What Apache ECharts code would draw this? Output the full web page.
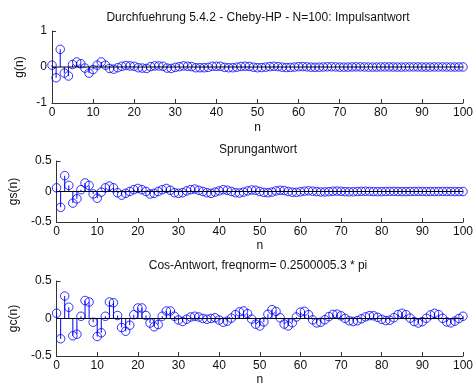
<!DOCTYPE html>
<html>
<head>
<meta charset="utf-8">
<script src="https://cdn.jsdelivr.net/npm/echarts@6/dist/echarts.min.js"></script>
<style>html,body{margin:0;padding:0;background:#fff}#c{width:476px;height:387px}</style>
</head>
<body>
<div id="c"></div>
<script>
// Titles and axis names
const titles = ["Durchfuehrung 5.4.2 - Cheby-HP - N=100: Impulsantwort", "Sprungantwort", "Cos-Antwort, freqnorm= 0.2500005.3 * pi"];
const yNames = ["g(n)", "gs(n)", "gc(n)"];
const xName = "n";
const xTicks = [0, 10, 20, 30, 40, 50, 60, 70, 80, 90, 100];
const yTicks1 = [-1, 0, 1];
const yTicks2 = [-0.5, 0, 0.5];
const yTicks3 = [-0.5, 0, 0.5];

// sample index n = 0..100
const nIdx = [0,1,2,3,4,5,6,7,8,9,10,11,12,13,14,15,16,17,18,19,20,21,22,23,24,25,26,27,28,29,30,31,32,33,34,35,36,37,38,39,40,41,42,43,44,45,46,47,48,49,50,51,52,53,54,55,56,57,58,59,60,61,62,63,64,65,66,67,68,69,70,71,72,73,74,75,76,77,78,79,80,81,82,83,84,85,86,87,88,89,90,91,92,93,94,95,96,97,98,99,100];

// impulse response g(n)
const gImpulse = [0.05,-0.30,0.49,-0.17,-0.25,0.07,0.14,0.09,-0.03,-0.17,-0.07,0.05,0.14,0.05,-0.04,-0.06,-0.02,0.02,0.04,
0.03,0.02,-0.02,-0.03,-0.04,0.01,0.03,0.03,0.02,-0.03,-0.04,-0.01,0.01,0.03,0.02,0.01,-0.02,-0.02,-0.02,-0.01,0.02,0.02,
0.02,-0.01,-0.02,-0.02,-0.005,0.015,0.02,0.015,-0.005,-0.02,-0.015,-0.005,0.01,0.02,0.01,-0.005,-0.015,-0.012,-0.002,0.009,
0.011,0.004,-0.004,-0.008,-0.005,0.0,0.005,0.006,0.002,-0.003,-0.005,-0.003,0.001,0.004,0.003,0.001,-0.002,-0.003,-0.002,0.001,
0.002,0.002,0.0,-0.002,-0.002,0.0,0.001,0.002,0.001,-0.001,-0.002,-0.001,0.001,0.001,0.001,0.0,-0.001,-0.001,0.0,0.001];

// step response gs(n)
const gStep = [0.06,-0.26,0.26,0.10,-0.19,-0.12,0.03,0.14,0.10,-0.04,-0.11,-0.01,0.06,0.09,0.06,-0.02,-0.06,-0.03,0.0,0.03,0.05,
0.03,0.0,-0.04,-0.03,0.0,0.03,0.05,0.02,-0.02,-0.03,-0.02,0.01,0.03,0.04,0.02,0.0,-0.02,-0.03,-0.01,0.01,
0.03,0.02,0.0,-0.02,-0.025,-0.01,0.01,0.025,0.02,0.0,-0.015,-0.02,-0.01,0.01,0.02,0.015,0.0,-0.012,-0.014,-0.005,
0.006,0.01,0.006,-0.002,-0.007,-0.007,-0.002,0.004,0.006,0.003,-0.002,-0.005,-0.004,0.0,0.003,0.004,0.002,-0.001,-0.003,-0.002,
0.0,0.002,0.002,0.0,-0.002,-0.002,0.0,0.001,0.002,0.001,-0.001,-0.001,-0.001,0.0,0.001,0.001,0.0,-0.001,-0.001,0.0];

// cosine response gc(n)
const gCos = [0.07,-0.27,0.30,0.15,-0.23,-0.21,0.03,0.24,0.22,-0.05,-0.24,-0.19,0.03,0.22,0.21,0.04,-0.12,-0.17,-0.09,0.05,0.14,
0.14,0.04,-0.06,-0.11,-0.08,0.03,0.10,0.10,0.03,-0.02,-0.04,-0.01,0.02,0.03,0.02,0.0,-0.01,0.0,0.01,-0.02,
-0.05,-0.035,0.004,0.051,0.088,0.10,0.065,-0.008,-0.076,-0.10,-0.045,0.056,0.118,0.094,0.01,-0.074,-0.099,-0.057,0.02,0.085,
0.097,0.051,-0.018,-0.059,-0.05,-0.017,0.025,0.055,0.058,0.036,0.001,-0.03,-0.04,-0.029,-0.004,0.022,0.038,0.036,0.016,-0.011,
-0.028,-0.023,0.011,0.052,0.07,0.051,0.005,-0.041,-0.06,-0.042,0.003,0.048,0.07,0.052,0.002,-0.046,-0.058,-0.035,0.0,0.03];

const seriesVals = [gImpulse, gStep, gCos];
const yTickSets = [yTicks1, yTicks2, yTicks3];

const grids = [
  {left: 52, top: 31, width: 413, height: 72},
  {left: 52, top: 161, width: 413, height: 61},
  {left: 52, top: 281, width: 413, height: 75}
];
const titleTops = [7, 139, 255];
const xNameGaps = [19, 18, 18];

const font = "'Liberation Sans', Arial, sans-serif";
const axisCol = '#333';
const blue = '#0000ff';

const chart = echarts.init(document.getElementById('c'), null, {renderer: 'canvas'});
const option = {
  animation: false,
  backgroundColor: '#fff',
  title: titles.map((t, i) => ({
    text: t, left: 253, top: titleTops[i], textAlign: 'center',
    textStyle: {fontFamily: font, fontSize: 12, fontWeight: 'normal', color: '#111'}
  })),
  grid: grids,
  xAxis: grids.map((g, i) => ({
    type: 'value', gridIndex: i, min: xTicks[0], max: xTicks[xTicks.length - 1], interval: 10,
    name: xName, nameLocation: 'middle', nameGap: xNameGaps[i],
    nameTextStyle: {fontFamily: font, fontSize: 12, color: '#111'},
    axisLine: {onZero: false, lineStyle: {color: axisCol, width: 1}},
    axisTick: {inside: true, length: 4, lineStyle: {color: axisCol}},
    axisLabel: {fontFamily: font, fontSize: 12, color: '#111', margin: 4},
    splitLine: {show: false}
  })),
  yAxis: grids.map((g, i) => ({
    type: 'value', gridIndex: i, min: yTickSets[i][0], max: yTickSets[i][2], interval: yTickSets[i][2],
    name: yNames[i], nameLocation: 'middle', nameGap: 25, nameRotate: 90,
    nameTextStyle: {fontFamily: font, fontSize: 12, color: '#111'},
    axisLine: {show: true, onZero: false, lineStyle: {color: axisCol, width: 1}},
    axisTick: {show: true, inside: true, length: 4, lineStyle: {color: axisCol}},
    axisLabel: {fontFamily: font, fontSize: 12, color: '#111', margin: 5},
    splitLine: {show: false}
  })),
  series: []
};
seriesVals.forEach((vals, i) => {
  const pts = nIdx.map((n, k) => [n, vals[k]]);
  option.series.push({
    type: 'bar', xAxisIndex: i, yAxisIndex: i, data: pts, barWidth: 1,
    itemStyle: {color: blue}, silent: true, z: 2
  });
  option.series.push({
    type: 'scatter', xAxisIndex: i, yAxisIndex: i, data: pts, symbol: 'circle', symbolSize: 8.5,
    itemStyle: {color: 'rgba(0,0,0,0)', borderColor: blue, borderWidth: 1}, silent: true, z: 3
  });
  option.series.push({
    type: 'line', xAxisIndex: i, yAxisIndex: i, data: [[xTicks[0], 0], [xTicks[xTicks.length - 1], 0]],
    symbol: 'none', lineStyle: {color: '#000', width: 1}, silent: true, z: 4
  });
});
chart.setOption(option);
</script>
</body>
</html>
